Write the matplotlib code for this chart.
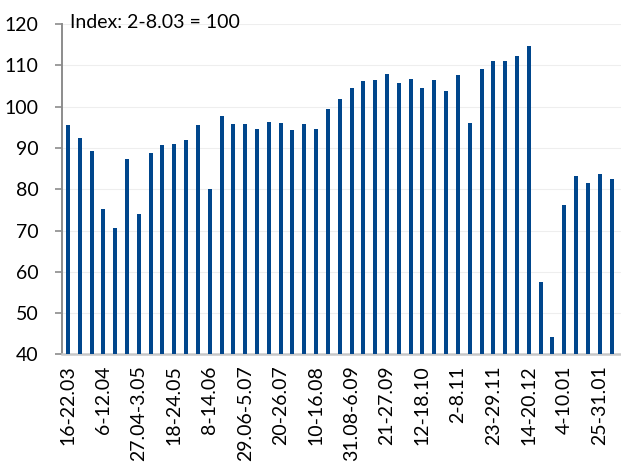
import matplotlib.pyplot as plt
import numpy as np

plt.rcParams["font.family"] = ["Lato", "DejaVu Sans"]

# weekly index values, 2-8.03 = 100
values = [95.6, 92.4, 89.3, 75.1, 70.7, 87.4, 74.1, 88.7, 90.6, 91.0,
          91.8, 95.6, 80.1, 97.8, 95.9, 95.8, 94.7, 96.3, 96.1, 94.4,
          95.8, 94.6, 99.5, 101.9, 104.6, 106.1, 106.5, 107.9, 105.8, 106.8,
          104.6, 106.5, 103.9, 107.7, 96.1, 109.2, 111.1, 111.1, 112.2, 114.7,
          57.6, 44.3, 76.3, 83.1, 81.5, 83.7, 82.6]
tick_labels = ["16-22.03", "6-12.04", "27.04-3.05", "18-24.05", "8-14.06",
               "29.06-5.07", "20-26.07", "10-16.08", "31.08-6.09", "21-27.09",
               "12-18.10", "2-8.11", "23-29.11", "14-20.12", "4-10.01",
               "25-31.01"]

fig = plt.figure(figsize=(6.21, 4.66), dpi=100)
ax = fig.add_axes([0.0998, 0.2393, 0.9002, 0.7092])

x = np.arange(len(values))
ax.bar(x, values, width=0.34, color="#00468C", zorder=3)

ax.set_ylim(40, 120)
ax.set_xlim(-0.5, len(values) - 0.2)
ax.set_yticks(range(40, 121, 10))
ax.set_xticks(x[::3])
ax.set_xticklabels(tick_labels, rotation=90)

ax.grid(axis="y", color="#eeeeee", linewidth=0.8, zorder=0)
for s in ["top", "right"]:
    ax.spines[s].set_visible(False)
ax.spines["left"].set_color("#8c8c8c")
ax.spines["left"].set_linewidth(1.4)
ax.spines["bottom"].set_color("#c8c8c8")
ax.spines["bottom"].set_linewidth(1.8)
ax.tick_params(axis="y", labelsize=14, length=5, width=1.2, color="#8c8c8c",
               pad=12)
ax.tick_params(axis="x", labelsize=14, length=0, pad=8)

fig.text(70 / 621, 1 - 22 / 466, "Index: 2-8.03 = 100", fontsize=14,
         va="center", ha="left")

fig.savefig("out.png", dpi=100)
